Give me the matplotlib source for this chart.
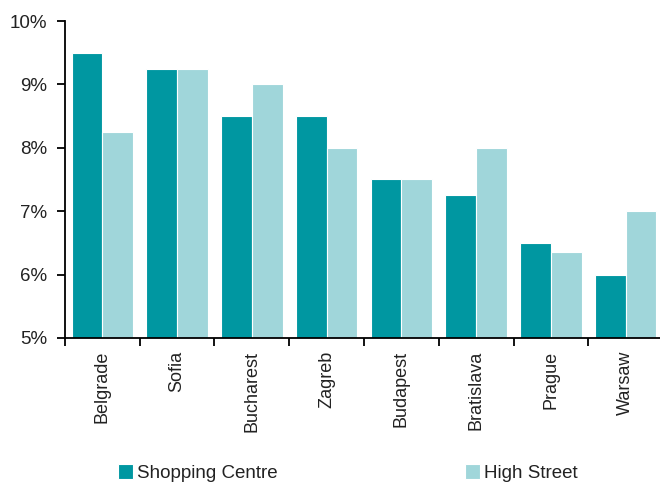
import matplotlib
matplotlib.use("Agg")
import matplotlib.pyplot as plt
import numpy as np

cities = ["Belgrade", "Sofia", "Bucharest", "Zagreb", "Budapest", "Bratislava", "Prague", "Warsaw"]
shopping_centre = [9.5, 9.25, 8.5, 8.5, 7.5, 7.25, 6.5, 6.0]
high_street = [8.25, 9.25, 9.0, 8.0, 7.5, 8.0, 6.35, 7.0]
series_names = ["Shopping Centre", "High Street"]
y_ticks = [5, 6, 7, 8, 9, 10]

plt.rcParams["font.family"] = ["Liberation Sans", "DejaVu Sans"]
text_color = "#222222"
c_sc = "#0097A1"
c_hs = "#A0D6DA"

W, H = 660, 482
fig = plt.figure(figsize=(W / 100, H / 100), dpi=100)
ax = fig.add_axes([65 / W, 1 - 338 / H, 598 / W, (338 - 21) / H])

x = np.arange(len(cities))
bw = 0.41
ax.bar(x - bw / 2, shopping_centre, width=bw, bottom=0, color=c_sc,
       edgecolor="white", linewidth=0.8, label=series_names[0])
ax.bar(x + bw / 2, high_street, width=bw, bottom=0, color=c_hs,
       edgecolor="white", linewidth=0.8, label=series_names[1])

ax.set_ylim(5, 10)
ax.set_xlim(-0.5, len(cities) - 0.5)
ax.set_yticks(y_ticks)
ax.set_yticklabels([f"{v}%" for v in y_ticks], fontsize=13.5, color=text_color)

# major ticks on category boundaries, labels at centres
ax.set_xticks(np.arange(len(cities) + 1) - 0.5)
ax.set_xticklabels([])
ax.set_xticks(x, minor=True)
ax.set_xticklabels(cities, minor=True, rotation=90, fontsize=13, color=text_color,
                   ha="center", va="top")
ax.tick_params(axis="x", which="major", direction="out", length=6, width=1.3, color="black")
ax.tick_params(axis="x", which="minor", length=0, pad=9)
ax.tick_params(axis="y", direction="out", length=6, width=1.3, color="black", pad=7)

for s in ["top", "right"]:
    ax.spines[s].set_visible(False)
for s in ["left", "bottom"]:
    ax.spines[s].set_linewidth(1.3)
    ax.spines[s].set_color("black")

leg = fig.legend(loc="center left", bbox_to_anchor=(118 / W, 1 - 473 / H),
                 ncol=2, frameon=False, fontsize=13.5, borderpad=0, borderaxespad=0,
                 handlelength=0.8, handleheight=0.8, handletextpad=0.2,
                 columnspacing=10.0)
for t in leg.get_texts():
    t.set_color(text_color)

fig.savefig("out.png", dpi=100)
